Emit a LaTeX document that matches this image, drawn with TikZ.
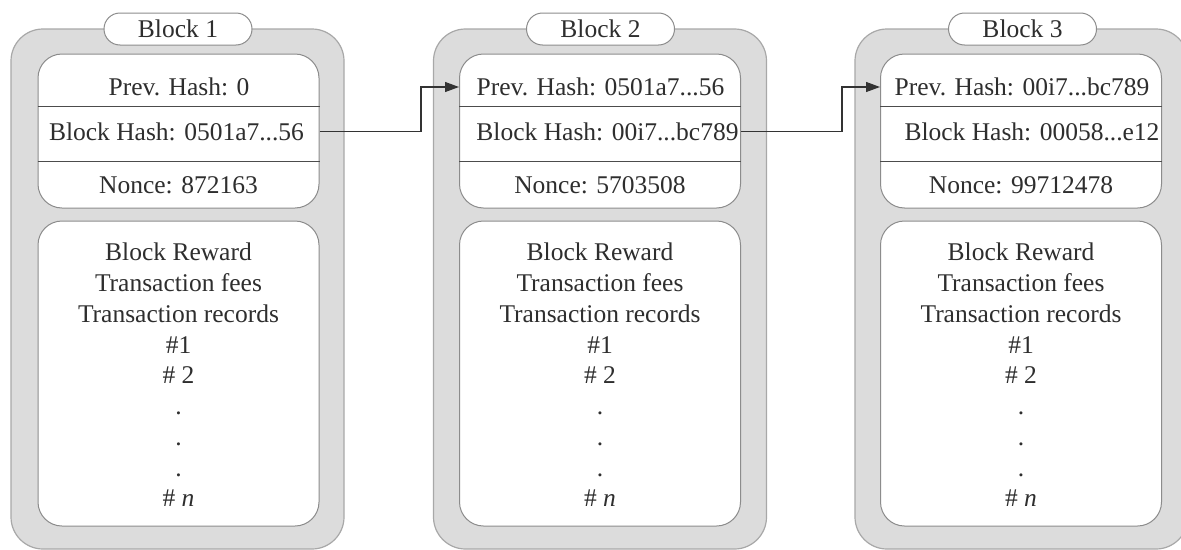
\documentclass[tikz,border=0pt]{standalone}
\usepackage{fontspec}
\setmainfont{Liberation Serif}
\usetikzlibrary{arrows.meta,calc}
\definecolor{outerfill}{HTML}{DCDCDC}
\definecolor{outerline}{HTML}{A8A8A8}
\definecolor{innerline}{HTML}{8C8C8C}
\definecolor{txt}{HTML}{2E2E2E}
\begin{document}
\begin{tikzpicture}[x=1pt,y=-1pt,
  font=\fontsize{25.5}{30.75}\selectfont, text=txt,
  outerbox/.style={draw=outerline, fill=outerfill, line width=1.2pt, rounded corners=32pt,
    minimum width=333pt, minimum height=520pt, inner sep=0pt},
  hashbox/.style={draw=innerline, fill=white, line width=1pt, rounded corners=24pt,
    minimum width=281pt, minimum height=154pt, inner sep=0pt},
  bodybox/.style={draw=innerline, fill=white, line width=1pt, rounded corners=24pt,
    minimum width=281pt, minimum height=305pt, inner sep=0pt},
  pill/.style={draw=innerline, fill=white, line width=1pt, rounded corners=16pt,
    minimum width=148pt, minimum height=32pt, inner sep=0pt},
  row/.style={inner sep=0pt},
  body/.style={align=center, inner sep=0pt},
  divider/.style={draw=black!70, line width=1pt},
  link/.style={draw=black!80, line width=1.2pt, -{Triangle[length=14pt,width=10pt]}}]
\clip (0,0) rectangle (1181,549);

% ---------- Block 1
\node[outerbox] (o1) at (177.5,289) {};
\node[pill] (t1) at (178,29) {Block 1};
\node[hashbox] (h1) at (178.5,131) {};
\draw[divider] ([yshift=-53pt]h1.north west) -- ([yshift=-53pt]h1.north east);
\draw[divider] ([yshift=-108pt]h1.north west) -- ([yshift=-108pt]h1.north east);
\node[row] (p1) at (179,87) {Prev. Hash: 0};
\node[row] (k1) at (176.5,131.5) {Block Hash: 0501a7...56};
\node[row] (n1) at (178.5,185) {Nonce: 872163};
\node[bodybox] (r1) at (178.5,373.5) {};
\node[body] (l1) at (178.5,375) {Block Reward\\Transaction fees\\Transaction records\\\#1\\\# 2\\.\\.\\.\\\# \textit{n}};

% ---------- Block 2
\node[outerbox] (o2) at (600,289) {};
\node[pill] (t2) at (600.5,29) {Block 2};
\node[hashbox] (h2) at (600,131) {};
\draw[divider] ([yshift=-53pt]h2.north west) -- ([yshift=-53pt]h2.north east);
\draw[divider] ([yshift=-108pt]h2.north west) -- ([yshift=-108pt]h2.north east);
\node[row] (p2) at (600.5,87) {Prev. Hash: 0501a7...56};
\node[row] (k2) at (607.5,131.5) {Block Hash: 00i7...bc789};
\node[row] (n2) at (600,185) {Nonce: 5703508};
\node[bodybox] (r2) at (600,373.5) {};
\node[body] (l2) at (600,375) {Block Reward\\Transaction fees\\Transaction records\\\#1\\\# 2\\.\\.\\.\\\# \textit{n}};

% ---------- Block 3
\node[outerbox] (o3) at (1021.5,289) {};
\node[pill] (t3) at (1022.5,29) {Block 3};
\node[hashbox] (h3) at (1021,131) {};
\draw[divider] ([yshift=-53pt]h3.north west) -- ([yshift=-53pt]h3.north east);
\draw[divider] ([yshift=-108pt]h3.north west) -- ([yshift=-108pt]h3.north east);
\node[row] (p3) at (1022,87) {Prev. Hash: 00i7...bc789};
\node[row] (k3) at (1032,131.5) {Block Hash: 00058...e12};
\node[row] (n3) at (1021,185) {Nonce: 99712478};
\node[bodybox] (r3) at (1021,373.5) {};
\node[body] (l3) at (1021,375) {Block Reward\\Transaction fees\\Transaction records\\\#1\\\# 2\\.\\.\\.\\\# \textit{n}};

% ---------- links
\coordinate (c1) at (421,108);
\coordinate (c2) at (842,108);
\draw[link] (h1.east |- k1) -| (c1) |- (h2.west |- p2);
\draw[link] (h2.east |- k2) -| (c2) |- (h3.west |- p3);
\end{tikzpicture}
\end{document}
